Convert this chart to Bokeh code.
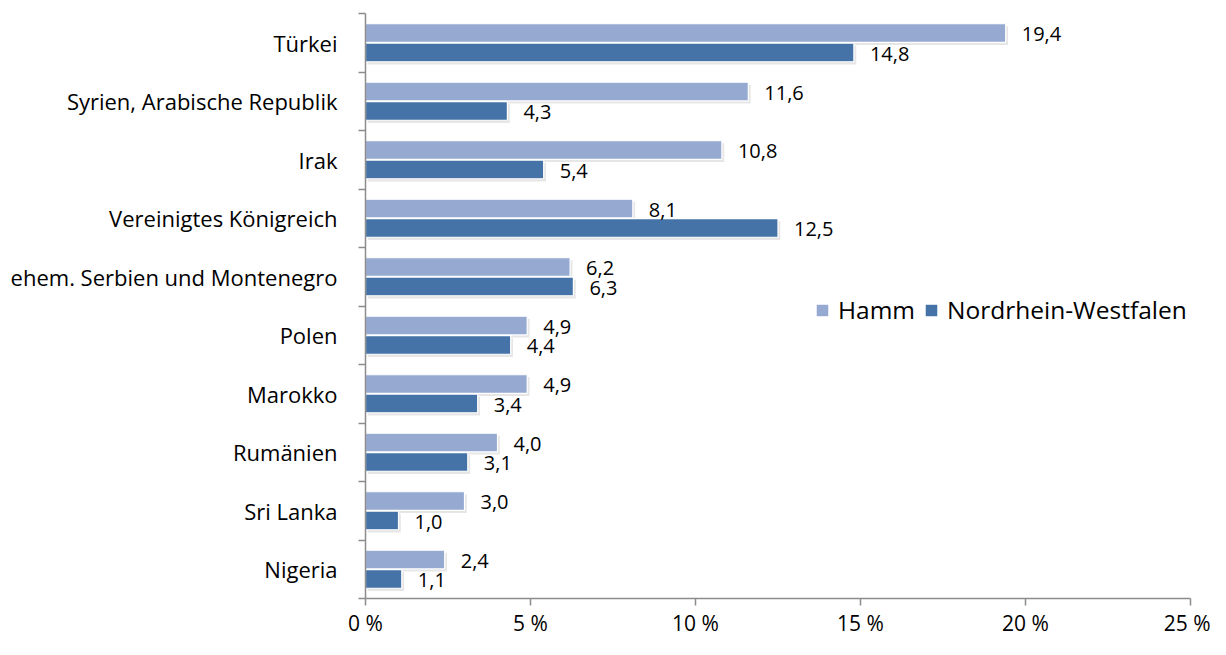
from bokeh.plotting import figure
from bokeh.models import ColumnDataSource, Range1d, FixedTicker, Legend, LegendItem
from bokeh.embed import file_html
from bokeh.resources import INLINE
from bokeh.core.properties import value
from bokeh.transform import dodge

# ---- data -------------------------------------------------------------
categories = ["Türkei", "Syrien, Arabische Republik", "Irak", "Vereinigtes Königreich",
              "ehem. Serbien und Montenegro", "Polen", "Marokko", "Rumänien",
              "Sri Lanka", "Nigeria"]
hamm = [19.4, 11.6, 10.8, 8.1, 6.2, 4.9, 4.9, 4.0, 3.0, 2.4]
nrw = [14.8, 4.3, 5.4, 12.5, 6.3, 4.4, 3.4, 3.1, 1.0, 1.1]
series_names = ["Hamm", "Nordrhein-Westfalen"]
x_ticks = [0, 5, 10, 15, 20, 25]
x_tick_labels = ["0 %", "5 %", "10 %", "15 %", "20 %", "25 %"]

FONT = "Open Sans"
C_HAMM = "#95A9D1"
C_NRW = "#4573A7"
AXIS_C = "#8c8c8c"

n = len(categories)
centers = [i + 0.5 for i in range(n)]

def fmt(v):
    return ("%.1f" % v).replace(".", ",")

src = ColumnDataSource(dict(
    y=centers, cat=categories, hamm=hamm, nrw=nrw,
    hamm_lbl=[fmt(v) for v in hamm], nrw_lbl=[fmt(v) for v in nrw],
))

p = figure(width=1210, height=639, output_backend="svg", toolbar_location=None,
           x_range=Range1d(0, 25), y_range=Range1d(n, 0),
           min_border_left=365, min_border_right=20, min_border_top=13,
           min_border_bottom=30, x_axis_location="below")
p.outline_line_color = None
p.xgrid.visible = False
p.ygrid.visible = False
p.background_fill_color = "white"
p.border_fill_color = "white"

BH = 0.32
OFF = 0.165

# shadows
p.hbar(y=dodge("y", -OFF + 0.045, range=p.y_range), left=0.07, right=dodge("hamm", 0.07, range=p.x_range),
       height=BH, source=src, fill_color="#c8c8c8", fill_alpha=0.45, line_color=None)
p.hbar(y=dodge("y", OFF + 0.045, range=p.y_range), left=0.07, right=dodge("nrw", 0.07, range=p.x_range),
       height=BH, source=src, fill_color="#c8c8c8", fill_alpha=0.45, line_color=None)

r_h = p.hbar(y=dodge("y", -OFF, range=p.y_range), left=0, right="hamm", height=BH, source=src,
             fill_color=C_HAMM, line_color="white", line_width=1.2)
r_n = p.hbar(y=dodge("y", OFF, range=p.y_range), left=0, right="nrw", height=BH, source=src,
             fill_color=C_NRW, line_color="white", line_width=1.2)

p.text(x="hamm", y=dodge("y", -OFF + 0.02, range=p.y_range), text="hamm_lbl", source=src,
       x_offset=16, text_align="left", text_baseline="middle",
       text_font=value(FONT), text_font_size="20px", text_color="#000000")
p.text(x="nrw", y=dodge("y", OFF + 0.02, range=p.y_range), text="nrw_lbl", source=src,
       x_offset=16, text_align="left", text_baseline="middle",
       text_font=value(FONT), text_font_size="20px", text_color="#000000")

# x axis
xa = p.xaxis[0]
xa.ticker = FixedTicker(ticks=x_ticks)
xa.major_label_overrides = {t: l for t, l in zip(x_ticks, x_tick_labels)}
xa.axis_line_color = AXIS_C
xa.axis_line_width = 1.5
xa.major_tick_line_color = AXIS_C
xa.major_tick_line_width = 1.5
xa.major_tick_out = 7
xa.major_tick_in = 0
xa.minor_tick_line_color = None
xa.major_label_text_font = FONT
xa.major_label_text_font_size = "21px"
xa.major_label_text_color = "#000000"
xa.major_label_standoff = 3

# y axis
ya = p.yaxis[0]
ya.ticker = FixedTicker(ticks=centers, minor_ticks=list(range(n + 1)))
ya.major_label_overrides = {c: lab for c, lab in zip(centers, categories)}
ya.axis_line_color = AXIS_C
ya.axis_line_width = 1.5
ya.major_tick_line_color = None
ya.major_tick_out = 0
ya.major_tick_in = 0
ya.minor_tick_line_color = AXIS_C
ya.minor_tick_line_width = 1.5
ya.minor_tick_out = 7
ya.minor_tick_in = 0
ya.major_label_text_font = FONT
ya.major_label_text_font_size = "22px"
ya.major_label_text_color = "#000000"
ya.major_label_standoff = 21

legend = Legend(items=[LegendItem(label=series_names[0], renderers=[r_h]),
                       LegendItem(label=series_names[1], renderers=[r_n])],
                orientation="horizontal", location=(449, 272),
                label_text_font=FONT, label_text_font_size="24.5px", label_text_color="#000000",
                glyph_width=16, glyph_height=16, label_standoff=8, spacing=8,
                padding=0, margin=0, border_line_color=None, background_fill_alpha=0)
p.add_layout(legend)

open("out.html", "w").write(file_html(p, INLINE))
